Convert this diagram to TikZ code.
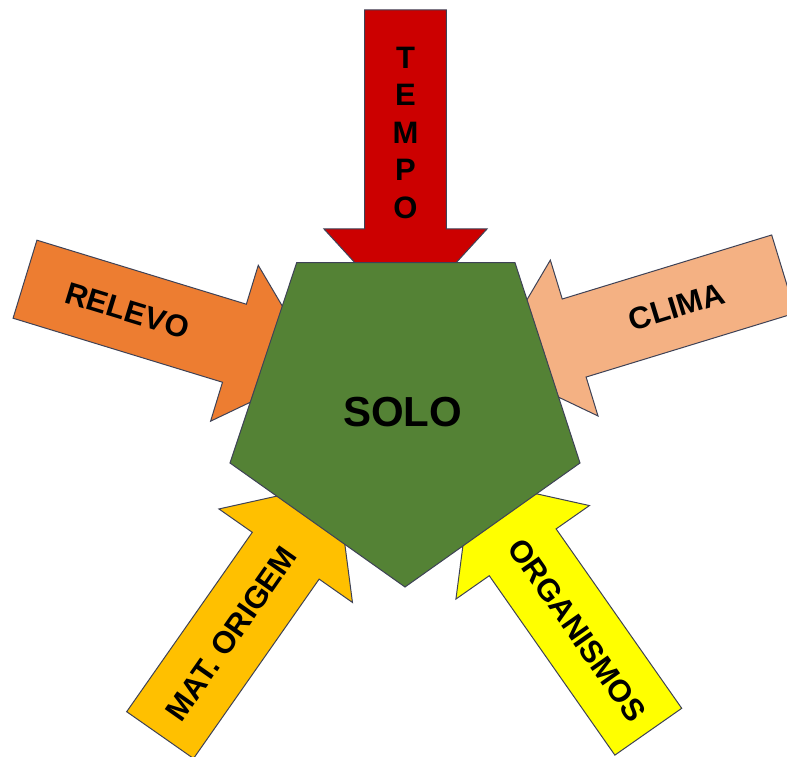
\documentclass[tikz,border=0pt]{standalone}
\usepackage{fontspec}
\setmainfont{Liberation Sans}
\usetikzlibrary{positioning}

\definecolor{edge}{RGB}{62,66,86}
\definecolor{soilgreen}{RGB}{84,130,53}
\definecolor{tempored}{RGB}{204,0,0}
\definecolor{relevoorange}{RGB}{237,125,49}
\definecolor{climasalmon}{RGB}{244,177,131}
\definecolor{matgold}{RGB}{255,192,0}
\definecolor{orgyellow}{RGB}{255,255,0}

\tikzset{
  factor/.style={draw=edge, line width=1pt, line join=miter},
  factor label/.style={font=\fontsize{31}{37.5}\selectfont\bfseries, text=black,
    inner sep=0pt, align=center},
  soil/.style={draw=edge, line width=1pt, fill=soilgreen},
}

\begin{document}
\begin{tikzpicture}[x=1pt,y=1pt]
	\useasboundingbox (0,0) rectangle (787,756);
	\clip (0,0) rectangle (787,756);
	
	% the five factors, each a block arrow pointing at the soil
	\foreach \name/\x/\y/\ang/\col/\d/\rot/\txt in {
		tempo/405.5/746/-90/tempored/122.5/0/{T\\E\\M\\P\\O},
		relevo/25/476.8/-17/relevoorange/107/-17/RELEVO,
		clima/783.6/482/197/climasalmon/112/17/CLIMA,
		origem/160.1/20.9/55/matgold/124/55/MAT. ORIGEM,
		organismos/648.3/24.3/125/orgyellow/124/-55/ORGANISMOS}
	{
		\begin{scope}[shift={(\x,\y)}, rotate=\ang]
			\draw[factor, fill=\col] (0,40.8) -- (219,40.8) -- (219,81.5) -- (308,0)
				-- (219,-81.5) -- (219,-40.8) -- (0,-40.8) -- cycle;
			\node[factor label, rotate=\rot] (\name) at (\d,0) {\txt};
		\end{scope}
	}
	
	% soil pentagon on top
	\draw[soil] (296.7,493.3) -- (515,493.3) -- (580,293) -- (405,169) -- (230,293) -- cycle;
	\node[factor label, font=\fontsize{42}{50}\selectfont\bfseries] (solo) at (402.5,344.3) {SOLO};
\end{tikzpicture}
\end{document}
